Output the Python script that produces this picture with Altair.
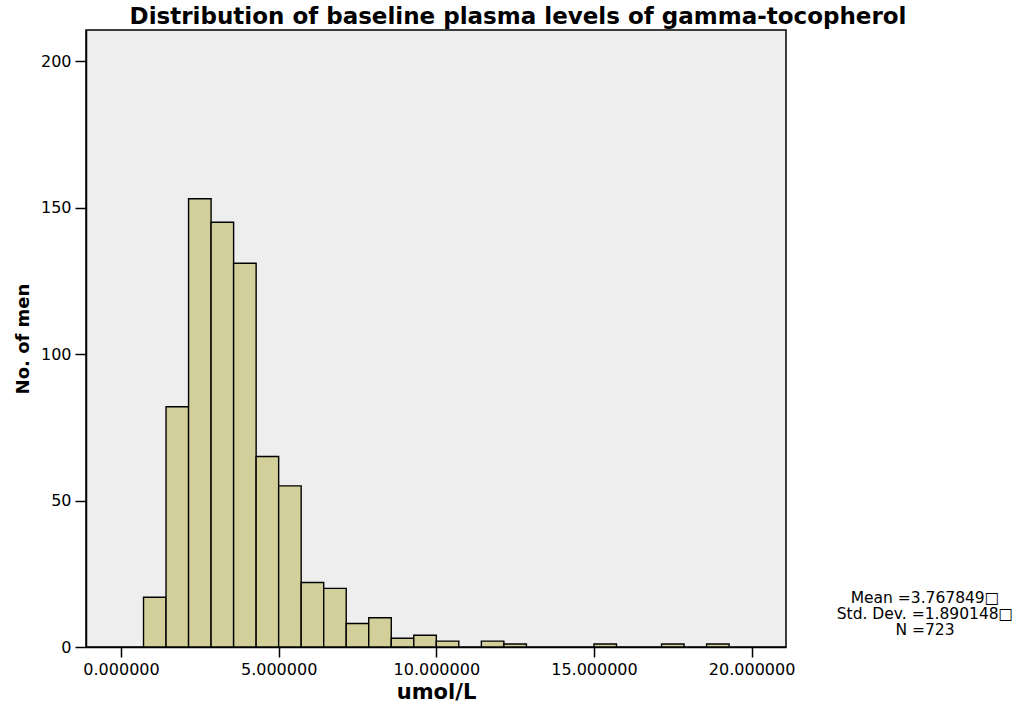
import altair as alt
import pandas as pd

# ---- data ----
BIN_WIDTH = 5 / 7
bin_index = list(range(1, 27))
counts = [17, 82, 153, 145, 131, 65, 55, 22, 20, 8, 10, 3, 4, 2, 0, 2, 1,
          0, 0, 0, 1, 0, 0, 1, 0, 1]
x_ticks = [0, 5, 10, 15, 20]
y_ticks = [0, 50, 100, 150, 200]
stats_lines = ["Mean =3.767849\u25a1", "Std. Dev. =1.890148\u25a1", "N =723"]

df = pd.DataFrame({"k": bin_index, "count": counts})
df = df[df["count"] > 0]

FONT = "DejaVu Sans"

bars = (
    alt.Chart(df)
    .transform_calculate(start=f"datum.k * {BIN_WIDTH}", end=f"(datum.k + 1) * {BIN_WIDTH}")
    .mark_rect(fill="#d3cf9a", stroke="black", strokeWidth=1.4)
    .encode(
        x=alt.X(
            "start:Q",
            scale=alt.Scale(domain=[-1.11, 21.09], nice=False, zero=False),
            axis=alt.Axis(
                values=x_ticks, format=".6f", title="umol/L",
                labelFontSize=16, labelFont=FONT, labelColor="black",
                titleFontSize=21, titleFont=FONT, titleFontWeight="bold", titleColor="black",
                tickSize=10, tickColor="black", tickWidth=1.5,
                domainColor="black", domainWidth=1.5, labelPadding=4, titlePadding=4,
                grid=False,
            ),
        ),
        x2="end:Q",
        y=alt.Y(
            "count:Q",
            scale=alt.Scale(domain=[0, 210.6], nice=False),
            axis=alt.Axis(
                values=y_ticks, title="No. of men",
                labelFontSize=16, labelFont=FONT, labelColor="black",
                titleFontSize=18, titleFont=FONT, titleFontWeight="bold", titleColor="black",
                tickSize=11, tickColor="black", tickWidth=1.5,
                domainColor="black", domainWidth=1.5, labelPadding=4, titlePadding=8,
                grid=False,
            ),
        ),
        y2=alt.datum(0),
    )
)

stats = (
    alt.Chart(pd.DataFrame({"t": ["\n".join(stats_lines)]}))
    .mark_text(font=FONT, fontSize=15.5, lineBreak="\n", lineHeight=16, align="center",
               baseline="middle", color="black")
    .encode(text="t:N", x=alt.value(839), y=alt.value(568))
)

chart = (
    alt.layer(bars, stats)
    .properties(
        width=700,
        height=617,
        autosize=alt.AutoSizeParams(type="none"),
        padding={"left": 86, "top": 30, "right": 241, "bottom": 62},
        title=alt.TitleParams(
            "Distribution of baseline plasma levels of gamma-tocopherol",
            font=FONT, fontSize=23, fontWeight="bold", color="black",
            anchor="middle", dx=82, offset=1,
        ),
    )
    .configure(background="white")
    .configure_view(fill="#eeeeee", stroke="black", strokeWidth=1.5)
)

chart.save("out.html", embed_options={"renderer": "svg", "actions": False})
